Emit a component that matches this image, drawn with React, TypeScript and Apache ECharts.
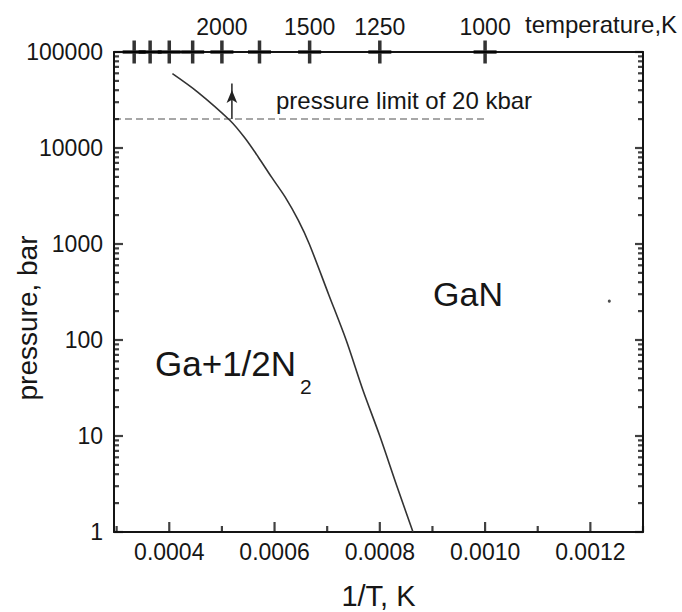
import React, { useEffect, useRef } from "react";
import * as echarts from "echarts";

// ---- axis ranges and ticks ----
const X_MIN = 0.000295;
const X_MAX = 0.0013;
const Y_MIN = 1;
const Y_MAX = 100000;
const xMajorTicks = [0.0004, 0.0006, 0.0008, 0.001, 0.0012];
const xMinorTicks = [0.0003, 0.0005, 0.0007, 0.0009, 0.0011, 0.0013];
const yMajorTicks = [1, 10, 100, 1000, 10000, 100000];
const yMinorMantissas = [2, 3, 4, 5, 6, 7, 8, 9];
const yMinorTicks = [1, 10, 100, 1000, 10000].flatMap((d) => yMinorMantissas.map((m) => m * d));

// temperature (K) marks on top axis
const tempTicksK = [3000, 2750, 2500, 2250, 2000, 1750, 1500, 1250, 1000];
const tempLabelsK = [2000, 1500, 1250, 1000];

// ---- phase boundary: 1/T (1/K) vs pressure (bar) ----
const invT = [
  0.000406, 0.000454, 0.000515, 0.000543, 0.000569, 0.000594, 0.00062, 0.000645,
  0.000666, 0.0007026, 0.000736, 0.000768, 0.0008, 0.0008325, 0.000863,
];
const pressure = [
  59600, 38300, 19450, 12850, 8070, 5000, 3095, 1770,
  1000, 300, 100, 30, 10, 3, 1,
];

// pressure limit line
const limitP = 20000;
const limitXEnd = 0.001;
// arrow
const arrowX = 0.000519;
const arrowFrom = 20000;
const arrowTo = 46900;
// stray dot
const strayDot = [0.001236, 254];

const FONT = "'Liberation Sans', Arial, Helvetica, sans-serif";
const TXT = "#161616";
const AX = "#141414";
const TICK = "#111111";

// tick marks drawn as thin rect symbols placed through the axes' scales
function yTickSeries(values: number[], side: "left" | "right", len: number) {
  const dir = side === "left" ? 1 : -1;
  return {
    type: "scatter",
    name: `${side} y ticks ${len}`,
    xAxisIndex: 0,
    yAxisIndex: 0,
    clip: false,
    silent: true,
    symbol: "rect",
    symbolSize: [len, 2.2],
    symbolOffset: [(dir * len) / 2, 0],
    itemStyle: { color: TICK },
    data: values.map((v) => [side === "left" ? X_MIN : X_MAX, v]),
    z: 6,
  };
}
function xTickSeries(values: number[], len: number) {
  return {
    type: "scatter",
    name: `x ticks ${len}`,
    xAxisIndex: 0,
    yAxisIndex: 0,
    clip: false,
    silent: true,
    symbol: "rect",
    symbolSize: [2.2, len],
    symbolOffset: [0, -len / 2],
    itemStyle: { color: TICK },
    data: values.map((v) => [v, Y_MIN]),
    z: 6,
  };
}

const textStyle = (text: string, size: number, align: string) => ({
  text,
  fill: TXT,
  fontSize: size,
  fontFamily: FONT,
  align,
  textAlign: align,
  verticalAlign: "middle",
  textVerticalAlign: "middle",
});

export default function App() {
  const ref = useRef<HTMLDivElement>(null);
  useEffect(() => {
    if (!ref.current) return;
    const chart = echarts.init(ref.current, null, { renderer: "svg" });
    const plus = "path://M9.75,0H13.25V23H9.75ZM0,9.75H23V13.25H0Z";
    const option: any = {
      animation: false,
      backgroundColor: "#ffffff",
      grid: { left: 114, right: 39, top: 52, bottom: 80, outerBoundsMode: "none", containLabel: false },
      xAxis: [
        {
          type: "value",
          position: "bottom",
          min: X_MIN,
          max: X_MAX,
          name: "1/T, K",
          nameLocation: "middle",
          nameGap: 49,
          nameTextStyle: { fontSize: 29, fontFamily: FONT, color: TXT },
          axisLine: { show: true, onZero: false, lineStyle: { color: AX, width: 2 } },
          axisTick: { show: false },
          axisLabel: {
            show: true,
            customValues: xMajorTicks,
            margin: 8,
            fontSize: 23,
            fontFamily: FONT,
            color: TXT,
            formatter: (v: number) => v.toFixed(4),
          },
          splitLine: { show: false },
        },
        {
          type: "value",
          position: "top",
          min: X_MIN,
          max: X_MAX,
          axisLine: { show: true, onZero: false, lineStyle: { color: AX, width: 2 } },
          axisTick: { show: false },
          axisLabel: {
            show: true,
            customValues: tempLabelsK.map((t) => 1 / t),
            margin: 14,
            fontSize: 23,
            fontFamily: FONT,
            color: TXT,
            formatter: (v: number) => String(Math.round(1 / v)),
          },
          splitLine: { show: false },
        },
      ],
      yAxis: [
        {
          type: "log",
          logBase: 10,
          position: "left",
          min: Y_MIN,
          max: Y_MAX,
          axisLine: { show: true, onZero: false, lineStyle: { color: AX, width: 2 } },
          axisTick: { show: false },
          axisLabel: {
            show: true,
            customValues: yMajorTicks,
            margin: 11,
            fontSize: 23,
            fontFamily: FONT,
            color: TXT,
            formatter: (v: number) => String(Math.round(v)),
          },
          splitLine: { show: false },
        },
        {
          type: "log",
          logBase: 10,
          position: "right",
          min: Y_MIN,
          max: Y_MAX,
          axisLine: { show: true, onZero: false, lineStyle: { color: AX, width: 2 } },
          axisTick: { show: false },
          axisLabel: { show: false },
          splitLine: { show: false },
        },
      ],
      series: [
        {
          name: "GaN boundary",
          type: "line",
          xAxisIndex: 0,
          yAxisIndex: 0,
          data: invT.map((x, i) => [x, pressure[i]]),
          symbol: "none",
          smooth: 0.3,
          lineStyle: { color: "#333333", width: 1.6 },
          z: 3,
        },
        {
          name: "pressure limit",
          type: "line",
          xAxisIndex: 0,
          yAxisIndex: 0,
          data: [
            [X_MIN, limitP],
            [limitXEnd, limitP],
          ],
          symbol: "none",
          lineStyle: { color: "#8a8a8a", width: 1.5, type: [7, 4] },
          z: 2,
        },
        {
          name: "arrow",
          type: "line",
          xAxisIndex: 0,
          yAxisIndex: 0,
          symbol: "arrow",
          showSymbol: true,
          data: [
            { value: [arrowX, arrowFrom], symbol: "none" },
            { value: [arrowX, arrowTo], symbol: "arrow", symbolSize: [8, 13], symbolOffset: [0, "50%"] },
          ],
          itemStyle: { color: "#222222" },
          lineStyle: { color: "#222222", width: 1.5 },
          z: 3,
        },
        {
          name: "temperature marks",
          type: "scatter",
          xAxisIndex: 1,
          yAxisIndex: 0,
          clip: false,
          silent: true,
          symbol: plus,
          symbolSize: [23, 23],
          itemStyle: { color: "#000000" },
          data: tempTicksK.map((t) => [1 / t, Y_MAX]),
          z: 5,
        },
        {
          name: "dot",
          type: "scatter",
          xAxisIndex: 0,
          yAxisIndex: 0,
          symbol: "circle",
          symbolSize: 3,
          itemStyle: { color: "#222222" },
          data: [strayDot],
          z: 3,
        },
        yTickSeries(yMajorTicks, "left", 9),
        yTickSeries(yMinorTicks, "left", 5),
        yTickSeries(yMajorTicks, "right", 8),
        yTickSeries(yMinorTicks, "right", 5),
        xTickSeries(xMajorTicks, 10),
        xTickSeries(xMinorTicks, 6),
      ],
      graphic: [
        { type: "text", x: 276, y: 100, style: textStyle("pressure limit of 20 kbar", 24, "left") },
        { type: "text", x: 468, y: 294, style: textStyle("GaN", 34, "center") },
        { type: "text", x: 155, y: 363, style: textStyle("Ga+1/2N", 35, "left") },
        { type: "text", x: 300, y: 386, style: textStyle("2", 21, "left") },
        { type: "text", x: 525, y: 24, style: textStyle("temperature,K", 24, "left") },
        { type: "text", x: 27, y: 318, rotation: Math.PI / 2, style: textStyle("pressure, bar", 28, "center") },
      ],
    };
    chart.setOption(option);
    return () => chart.dispose();
  }, []);
  return (
    <div
      ref={ref}
      style={{ position: "absolute", left: 0, top: 0, width: 682, height: 612, background: "#fff" }}
    />
  );
}
